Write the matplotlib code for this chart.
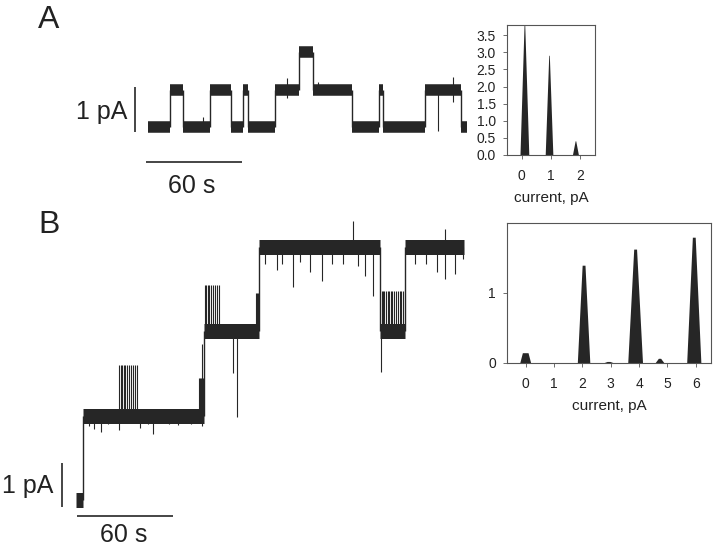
import numpy as np
import matplotlib
matplotlib.use("Agg")
import matplotlib.pyplot as plt
from matplotlib.ticker import FormatStrFormatter

plt.rcParams['font.family'] = ['Liberation Sans', 'DejaVu Sans']

# ---- panel A trace: step boundaries (s) and current level (pA) ----
a_t = [0, 13.8, 21.9, 38.8, 51.9, 59.4, 62.5, 79.4, 94.4, 103.1, 127.5,
       144.4, 146.9, 173.1, 195.6, 199.4]
a_lvl = [0, 1, 0, 1, 0, 1, 0, 1, 2, 1, 0, 1, 0, 1, 0]
# brief spikes / closures
a_spk_t = [34.4, 87.0, 106.0, 181.5, 190.7]
a_spk_lo = [-0.05, 0.77, 0.9, -0.1, 0.67]
a_spk_hi = [0.27, 1.3, 1.2, 1.0, 1.34]

# ---- panel A histogram ----
a_pk_c = [0.11, 0.95, 1.85]
a_pk_h = [3.85, 2.9, 0.4]
a_pk_wb = [0.15, 0.13, 0.1]
a_pk_wt = [0.01, 0.01, 0.01]

# ---- panel B trace ----
b_t = [0, 4.4, 80, 114.4, 190, 205.6, 242.5]
b_lvl = [0, 2, 4, 6, 4, 6]
b_spk_t = [27.1, 27.9, 28.6, 29.8, 30.9, 31.8, 33.0, 34.3, 35.5, 36.8, 38.1,
           77.0, 77.6, 78.2, 78.8, 79.4, 78.5,
           8.0, 11.5, 15.4, 20.0, 27.0, 40.0, 45.0, 47.9, 58.0, 64.0, 72.0, 79.0,
           80.8, 81.5, 82.3, 83.4, 84.6, 85.8, 86.9, 88.1, 89.4,
           112.3, 113.0, 113.6, 98.3, 100.8,
           118, 125.4, 129, 135.8, 140, 146.3, 153.6, 160, 167, 176, 180.6,
           185.4, 212, 219, 225.4, 230.6, 236.9, 242.0,
           172.9, 230.6,
           191.0, 191.9, 192.8, 193.7, 194.8, 195.8, 196.9, 197.8, 198.9,
           200.0, 201.1, 202.2, 203.3, 204.4, 190.4]
b_spk_lo = [2.0] * 11 + [2.0] * 6 + \
    [1.75, 1.68, 1.6, 1.8, 1.65, 1.7, 1.8, 1.56, 1.8, 1.78, 1.8, 1.75] + \
    [4.0] * 9 + [4.0] * 3 + [3.0, 1.97] + \
    [5.6, 5.45, 5.6, 5.04, 5.65, 5.4, 5.19, 5.6, 5.6, 5.55, 5.3,
     4.83, 5.6, 5.6, 5.4, 5.23, 5.35, 5.7] + \
    [6.0, 6.0] + [4.0] * 14 + [3.04]
b_spk_hi = [3.2] * 11 + [2.9] * 5 + [3.7] + \
    [2.0] * 12 + [5.1] * 9 + [4.9] * 3 + [4.0, 4.0] + [6.0] * 18 + \
    [6.6, 6.42] + [4.96] * 14 + [4.0]

# ---- panel B histogram ----
b_pk_c = [0.0, 2.06, 2.94, 3.88, 4.74, 5.95]
b_pk_h = [0.14, 1.39, 0.015, 1.62, 0.06, 1.79]
b_pk_wb = [0.19, 0.22, 0.15, 0.26, 0.15, 0.25]
b_pk_wt = [0.1, 0.05, 0.05, 0.05, 0.04, 0.05]

ink = '#262626'
txt = '#222222'

fig = plt.figure(figsize=(7.2, 5.48), dpi=100)


def px_axes(x0, y0, x1, y1):
    # axes box given in picture pixels (y from top)
    return fig.add_axes([x0 / 720, 1 - y1 / 548, (x1 - x0) / 720, (y1 - y0) / 548])


def px_text(x, y, s, **kw):
    fig.text(x / 720, 1 - y / 548, s, color=txt, **kw)


def draw_trace(ax, t, lvl, st, slo, shi, band):
    for i, lv in enumerate(lvl):
        ax.hlines(lv, t[i], t[i + 1], lw=band, color=ink, capstyle='butt')
    lv0 = np.array(lvl[:-1])
    lv1 = np.array(lvl[1:])
    ax.vlines(t[1:-1], np.minimum(lv0, lv1), np.maximum(lv0, lv1), lw=1.0, color=ink)
    ax.vlines(st, slo, shi, lw=0.8, color=ink)


def draw_hist(ax, c, h, wb, wt):
    for ci, hi, b, w in zip(c, h, wb, wt):
        ax.fill([ci - b, ci - w, ci + w, ci + b], [0, hi, hi, 0], color=ink, lw=0)
    for s in ax.spines.values():
        s.set_color('#555555')
        s.set_linewidth(0.8)
    ax.tick_params(length=3, width=0.6, color='#555555', labelsize=10,
                   labelcolor=txt)
    ax.tick_params(axis='x', pad=7)
    ax.tick_params(axis='y', pad=5)
    ax.set_xlabel('current, pA', fontsize=11, color=txt, labelpad=6)


# panel A trace
axA = px_axes(60, 0, 480, 200)
axA.axis('off')
axA.set_xlim(-55, 207.5)
axA.set_ylim(-73 / 37.5, 127 / 37.5)
draw_trace(axA, a_t, a_lvl, a_spk_t, a_spk_lo, a_spk_hi, 8.3)
axA.vlines(-8.1, -0.133, 1.067, lw=1.2, color=ink)
axA.hlines(-0.933, -1.25, 58.75, lw=1.2, color=ink)

# panel A histogram
hA = px_axes(507, 25, 595, 155)
draw_hist(hA, a_pk_c, a_pk_h, a_pk_wb, a_pk_wt)
hA.set_xlim(-0.5, 2.5)
hA.set_ylim(0, 3.8)
hA.set_xticks([0, 1, 2])
hA.set_yticks(np.arange(0, 3.6, 0.5))
hA.yaxis.set_major_formatter(FormatStrFormatter('%.1f'))

# panel B trace
axB = px_axes(0, 200, 480, 548)
axB.axis('off')
axB.set_xlim(-47.5, 252.5)
axB.set_ylim(-48 / 42.2, 300 / 42.2)
draw_trace(axB, b_t, b_lvl, b_spk_t, b_spk_lo, b_spk_hi, 10.8)
axB.vlines(-8.75, -0.166, 0.877, lw=1.2, color=ink)
axB.hlines(-0.379, 0.625, 60.6, lw=1.2, color=ink)

# panel B histogram
hB = px_axes(507, 223, 711, 363)
draw_hist(hB, b_pk_c, b_pk_h, b_pk_wb, b_pk_wt)
hB.set_xlim(-0.66, 6.54)
hB.set_ylim(0, 2.0)
hB.set_xticks(range(7))
hB.set_yticks([0, 1])

# labels
px_text(38, 28, 'A', fontsize=23, va='baseline')
px_text(38, 233, 'B', fontsize=23, va='baseline')
px_text(127, 118.5, '1 pA', fontsize=18, ha='right', va='baseline')
px_text(191.5, 193.3, '60 s', fontsize=18, ha='center', va='baseline')
px_text(53.5, 493.3, '1 pA', fontsize=18, ha='right', va='baseline')
px_text(123.8, 542.5, '60 s', fontsize=18, ha='center', va='baseline')

fig.savefig('out.png', dpi=100)
